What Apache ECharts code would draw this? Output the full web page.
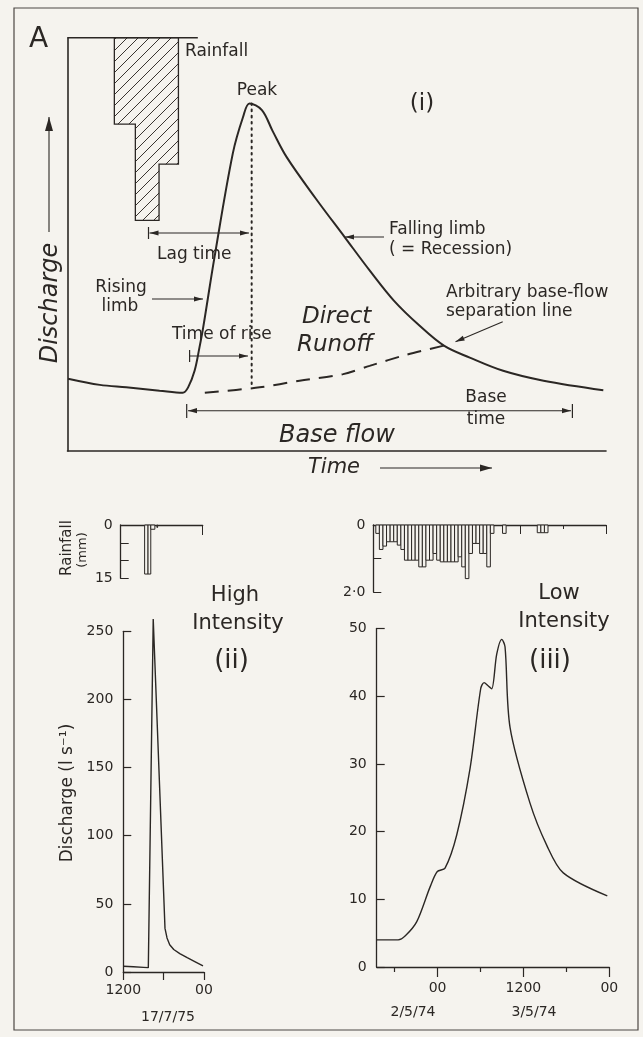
<!DOCTYPE html>
<html>
<head>
<meta charset="utf-8">
<title>Storm hydrographs</title>
<script src="https://cdn.jsdelivr.net/npm/echarts@6.0.0/dist/echarts.min.js"></script>
<style>
  html, body { margin: 0; padding: 0; background: #f5f3ee; }
  #chart { width: 643px; height: 1037px; }
</style>
</head>
<body>
<div id="chart"></div>
<script>
// ---- panel (i): idealised hydrograph, arbitrary units (time 0-100, discharge 0-100)
const idealHydrograph = [[0.1,17.5],[6,16],[10.9,15.4],[17.1,14.6],[21.4,14.1],[22.4,15.4],[23.6,19.4],
  [24.5,25],[25.2,29.9],[27.3,46.9],[30.7,72],[32.6,80.8],[33.8,84.1],[36.1,82.5],[38.1,77.4],[40.7,71.1],
  [46.1,61.1],[51.5,51.7],[56.1,43.7],[60.6,36.4],[65.4,30.3],[69.9,25.5],[74.7,22.6],[80.9,19.4],
  [88.4,17],[99.5,14.7]]
const separationLine = [[25.5,14.1],[35.7,15.4],[43.1,17],[51.2,18.6],[56.1,20.6],[63,23.3],[69.9,25.5]]
const peakTime = [[34.2,84.1],[34.2,15.3]]
const rainDatum = [[0,100],[24.2,100]]
// hyetograph blocks hanging from the datum: [start, end, depth]
const idealRain = [[8.7,12.6,20.9],[12.6,17.0,44.2],[17.0,20.6,30.6]]

// ---- panel (ii): high intensity storm, 17/7/75 (hours)
const highRain = [[15.5,16.0,13.8],[16.0,16.4,13.8],[16.4,17.0,1.2],[17.3,17.4,0.7]]
const highFlow = [[12,4.2],[13.5,3.8],[15,3.4],[15.72,3.2],[16.45,259],[18.2,32],[18.5,25],[18.9,20],
  [19.5,16.5],[20.4,13.5],[21.5,10.5],[22.7,7.5],[23.85,4.5]]
const highRainTicks = ['0','15']
const highTimeLabels = ['1200','00']

// ---- panel (iii): low intensity storm, 2-3/5/74 (hours from 00 on 2/5/74)
const lowRainStart = [15.85,16.35,16.85,17.35,17.85,18.35,18.85,19.35,19.85,20.35,20.85,21.35,21.85,
  22.35,22.85,23.35,23.85,24.35,24.85,25.35,25.85,26.35,26.85,27.35,27.85,28.35,28.85,29.35,29.85,
  30.35,30.85,31.35,31.85,33.55,38.4,38.9,39.4]
const lowRainMm = [0.25,0.73,0.63,0.5,0.5,0.5,0.6,0.73,1.05,1.05,1.05,1.05,1.25,1.25,1.05,1.05,0.85,
  1.05,1.1,1.1,1.1,1.1,1.1,0.95,1.25,1.6,0.85,0.55,0.55,0.85,0.85,1.25,0.25,0.25,0.23,0.23,0.23]
const lowFlow = [[15.5,4.0],[18.5,4.0],[19.5,4.6],[21.1,6.7],[22.95,11.8],[23.97,14.1],[25.05,14.6],
  [26.68,19.5],[28.54,29.3],[30.03,41.1],[30.5,42],[31.1,41.5],[31.57,41.1],[32.27,46.2],[32.97,48.4],
  [33.43,47.3],[34.13,35.4],[36.92,24.2],[39.25,18],[41.57,13.9],[47.72,10.5]]
const lowTimeLabels = {24: '00', 36: '1200', 48: '00'}
const lowMajorTicks = [24, 36, 48]
const lowMinorTicks = [18, 30, 42]

const ink = '#2b2724'
const paper = '#f5f3ee'
const font = 'DejaVu Sans'

// diagonal hatching for the hyetograph
const hatch = document.createElement('canvas')
hatch.width = 11; hatch.height = 11
const hc = hatch.getContext('2d')
hc.strokeStyle = '#3a3430'; hc.lineWidth = 1
hc.beginPath()
hc.moveTo(0, 11); hc.lineTo(11, 0)
hc.moveTo(-2, 2); hc.lineTo(2, -2)
hc.moveTo(9, 13); hc.lineTo(13, 9)
hc.stroke()

const lowRain = lowRainStart.map((t, i) => [t, t + 0.5, lowRainMm[i]])

const chart = echarts.init(document.getElementById('chart'), null, { renderer: 'canvas' })

const noAxis = { show: true, axisLine: { show: true, onZero: false, lineStyle: { color: ink, width: 1.3 } },
  axisTick: { show: false }, axisLabel: { show: false }, splitLine: { show: false } }
const hidden = { show: false, type: 'value' }
const lbl = { fontFamily: font, fontSize: 14, color: ink }

const rainBars = (params, api) => {
  const a = api.coord([api.value(0), 0])
  const b = api.coord([api.value(1), api.value(2)])
  return { type: 'rect', shape: { x: a[0], y: a[1], width: b[0] - a[0], height: b[1] - a[1] },
    style: { fill: paper, stroke: ink, lineWidth: 1 } }
}

// arrows and labels
function arrow(x1, y1, x2, y2, both, len, half) {
  len = len || 9; half = half || 2.6
  const out = [{ type: 'line', shape: { x1, y1, x2, y2 }, style: { stroke: ink, lineWidth: 1.1 } }]
  const head = (ax, ay, bx, by) => {
    const ang = Math.atan2(by - ay, bx - ax), c = Math.cos(ang), s = Math.sin(ang)
    out.push({ type: 'polygon', shape: { points: [[bx, by],
      [bx - len * c + half * s, by - len * s - half * c],
      [bx - len * c - half * s, by - len * s + half * c]] }, style: { fill: ink } })
  }
  head(x1, y1, x2, y2)
  if (both) head(x2, y2, x1, y1)
  return out
}
function bar(x, y1, y2) {
  return { type: 'line', shape: { x1: x, y1, x2: x, y2 }, style: { stroke: ink, lineWidth: 1.2 } }
}
function txt(text, x, y, size, opts) {
  opts = opts || {}
  return { type: 'text', x, y, rotation: opts.rot || 0,
    style: { text, fill: ink, fontFamily: font, fontSize: size, fontStyle: opts.italic ? 'italic' : 'normal',
      align: opts.align || 'left', verticalAlign: 'middle' } }
}

const graphics = [
  { type: 'rect', shape: { x: 14, y: 8, width: 624, height: 1022 }, style: { fill: 'none', stroke: '#4d4844', lineWidth: 1.2 } },
  txt('A', 29, 40, 28),
  txt('Rainfall', 185, 52, 17),
  txt('Peak', 257, 91, 17, { align: 'center' }),
  txt('(i)', 422, 104, 23, { align: 'center' }),
  txt('Lag time', 157, 255, 17),
  txt('Rising', 121, 288, 17, { align: 'center' }),
  txt('limb', 120, 307, 17, { align: 'center' }),
  txt('Time of rise', 172, 335, 17),
  txt('Direct', 302, 317, 23, { italic: true }),
  txt('Runoff', 297, 345, 23, { italic: true }),
  txt('Falling limb', 389, 230, 17),
  txt('( = Recession)', 389, 250, 17),
  txt('Arbitrary base-flow', 446, 293, 17),
  txt('separation line', 446, 312, 17),
  txt('Base', 486, 398, 17, { align: 'center' }),
  txt('time', 486, 420, 17, { align: 'center' }),
  txt('Base flow', 279, 436, 24, { italic: true }),
  txt('Time', 308, 468, 21, { italic: true }),
  txt('Discharge', 51, 303, 24, { italic: true, align: 'center', rot: Math.PI / 2 }),
  ...arrow(49, 232, 49, 117, false, 14, 4),
  ...arrow(380, 468, 492, 468, false, 12, 3.6),
  ...arrow(149.5, 233, 249, 233, true),
  bar(148.5, 227, 239),
  ...arrow(152, 299, 203, 299),
  bar(189.6, 350, 362),
  ...arrow(189.6, 356, 248, 356),
  ...arrow(384, 237, 345, 237),
  ...arrow(502.7, 321.7, 455.5, 341.7),
  ...arrow(188, 410.7, 571, 410.7, true),
  bar(186.7, 404, 418),
  bar(572.4, 404, 418),
  // panel (ii) / (iii) labels
  txt('Rainfall', 67, 548, 15, { align: 'center', rot: Math.PI / 2 }),
  txt('(mm)', 83, 550, 13, { align: 'center', rot: Math.PI / 2 }),
  txt('Discharge (l s⁻¹)', 68, 793, 17, { align: 'center', rot: Math.PI / 2 }),
  txt('High', 235, 596, 21, { align: 'center' }),
  txt('Intensity', 238, 624, 21, { align: 'center' }),
  txt('(ii)', 231.5, 661, 26, { align: 'center' }),
  txt('17/7/75', 168, 1017, 14, { align: 'center' }),
  txt('Low', 559, 594, 21, { align: 'center' }),
  txt('Intensity', 564, 622, 21, { align: 'center' }),
  txt('(iii)', 550, 661, 26, { align: 'center' }),
  txt('2/5/74', 413, 1012, 14, { align: 'center' }),
  txt('3/5/74', 534, 1012, 14, { align: 'center' })
]

const rainGridIII = { left: 373.3, top: 525, width: 232.7, height: 67, outerBoundsMode: 'none' }
const flowGridIII = { left: 376.7, top: 628.5, width: 232.6, height: 338.5, outerBoundsMode: 'none' }

const option = {
  backgroundColor: paper,
  animation: false,
  grid: [
    { left: 67.5, top: 37.7, width: 538.5, height: 413.3, outerBoundsMode: 'none' },
    { left: 120.7, top: 525, width: 82, height: 53.3, outerBoundsMode: 'none' },
    { left: 123.3, top: 631.3, width: 80.7, height: 340.7, outerBoundsMode: 'none' },
    rainGridIII,
    flowGridIII,
    { ...rainGridIII },
    { ...flowGridIII }
  ],
  xAxis: [
    { ...noAxis, gridIndex: 0, type: 'value', min: 0, max: 100, axisLine: { onZero: false, lineStyle: { color: ink, width: 1.6 } } },
    { ...noAxis, gridIndex: 1, type: 'value', min: 12, max: 24, position: 'top',
      axisTick: { show: true, inside: true, length: 10, customValues: [24], lineStyle: { color: ink } } },
    { ...noAxis, gridIndex: 2, type: 'value', min: 12, max: 24, interval: 6,
      axisTick: { show: true, length: 8, lineStyle: { color: ink, width: 1.2 } },
      axisLabel: { ...lbl, show: true, margin: 11, showMinLabel: true, showMaxLabel: true,
        formatter: v => v === 12 ? highTimeLabels[0] : (v === 24 ? highTimeLabels[1] : '') } },
    { ...noAxis, gridIndex: 3, type: 'value', min: 15.5, max: 48, position: 'top',
      axisTick: { show: true, inside: true, length: 9, customValues: lowMajorTicks, lineStyle: { color: ink } } },
    { ...noAxis, gridIndex: 4, type: 'value', min: 15.5, max: 48, position: 'bottom',
      axisTick: { show: true, length: 10, customValues: lowMajorTicks, lineStyle: { color: ink, width: 1.2 } },
      axisLabel: { ...lbl, show: true, margin: 14, customValues: lowMajorTicks, formatter: v => lowTimeLabels[v] } },
    { ...noAxis, gridIndex: 5, type: 'value', min: 15.5, max: 48, position: 'top', axisLine: { show: false, onZero: false },
      axisTick: { show: true, inside: true, length: 4, customValues: lowMinorTicks, lineStyle: { color: ink } } },
    { ...noAxis, gridIndex: 6, type: 'value', min: 15.5, max: 48, position: 'bottom', axisLine: { show: false, onZero: false },
      axisTick: { show: true, length: 5, customValues: lowMinorTicks, lineStyle: { color: ink, width: 1.2 } } }
  ],
  yAxis: [
    { ...noAxis, gridIndex: 0, type: 'value', min: 0, max: 100, axisLine: { onZero: false, lineStyle: { color: ink, width: 1.6 } } },
    { ...noAxis, gridIndex: 1, type: 'value', min: 0, max: 15, interval: 5, inverse: true,
      axisTick: { show: true, inside: true, length: 8, lineStyle: { color: ink } },
      axisLabel: { ...lbl, show: true, margin: 8,
        formatter: v => v === 0 ? highRainTicks[0] : (v === 15 ? highRainTicks[1] : '') } },
    { ...noAxis, gridIndex: 2, type: 'value', min: 0, max: 250, interval: 50,
      axisTick: { show: true, inside: true, length: 8, lineStyle: { color: ink, width: 1.2 } },
      axisLabel: { ...lbl, show: true, margin: 10 } },
    { ...noAxis, gridIndex: 3, type: 'value', min: 0, max: 2, interval: 1, inverse: true,
      axisTick: { show: true, inside: true, length: 8, lineStyle: { color: ink } },
      axisLabel: { ...lbl, show: true, margin: 8, formatter: v => v === 0 ? '0' : (v === 2 ? '2·0' : '') } },
    { ...noAxis, gridIndex: 4, type: 'value', min: 0, max: 50, interval: 10,
      axisTick: { show: true, inside: true, length: 8, lineStyle: { color: ink, width: 1.2 } },
      axisLabel: { ...lbl, show: true, margin: 10 } },
    { ...hidden, gridIndex: 5, min: 0, max: 2, inverse: true },
    { ...hidden, gridIndex: 6, min: 0, max: 50 }
  ],
  series: [
    { name: 'rain datum', type: 'line', xAxisIndex: 0, yAxisIndex: 0, data: rainDatum, showSymbol: false,
      lineStyle: { color: ink, width: 1.6 } },
    { name: 'rainfall', type: 'custom', xAxisIndex: 0, yAxisIndex: 0, data: [[idealRain[0][0], 100]], clip: false,
      renderItem: (params, api) => {
        const pts = [api.coord([idealRain[0][0], 100])]
        idealRain.forEach(b => {
          pts.push(api.coord([b[0], 100 - b[2]]))
          pts.push(api.coord([b[1], 100 - b[2]]))
        })
        pts.push(api.coord([idealRain[idealRain.length - 1][1], 100]))
        return { type: 'polygon', shape: { points: pts },
          style: { fill: { image: hatch, repeat: 'repeat' }, stroke: ink, lineWidth: 1.3 } }
      } },
    { name: 'hydrograph', type: 'line', xAxisIndex: 0, yAxisIndex: 0, data: idealHydrograph, smooth: 0.35,
      showSymbol: false, lineStyle: { color: ink, width: 2 } },
    { name: 'separation', type: 'line', xAxisIndex: 0, yAxisIndex: 0, data: separationLine, smooth: 0.3,
      showSymbol: false, lineStyle: { color: ink, width: 2, type: [14, 9] } },
    { name: 'peak', type: 'line', xAxisIndex: 0, yAxisIndex: 0, data: peakTime, showSymbol: false,
      lineStyle: { color: ink, width: 2, type: [1.6, 4.6], cap: 'round' } },
    { name: 'high rain', type: 'custom', xAxisIndex: 1, yAxisIndex: 1, data: highRain,
      encode: { x: [0, 1], y: 2 }, renderItem: rainBars },
    { name: 'high flow', type: 'line', xAxisIndex: 2, yAxisIndex: 2, data: highFlow, clip: false,
      showSymbol: false, lineStyle: { color: ink, width: 1.4 } },
    { name: 'low rain', type: 'custom', xAxisIndex: 3, yAxisIndex: 3, data: lowRain,
      encode: { x: [0, 1], y: 2 }, renderItem: rainBars },
    { name: 'low flow', type: 'line', xAxisIndex: 4, yAxisIndex: 4, data: lowFlow, smooth: 0.3,
      showSymbol: false, lineStyle: { color: ink, width: 1.4 } }
  ],
  graphic: graphics
}

chart.setOption(option)
</script>
</body>
</html>
